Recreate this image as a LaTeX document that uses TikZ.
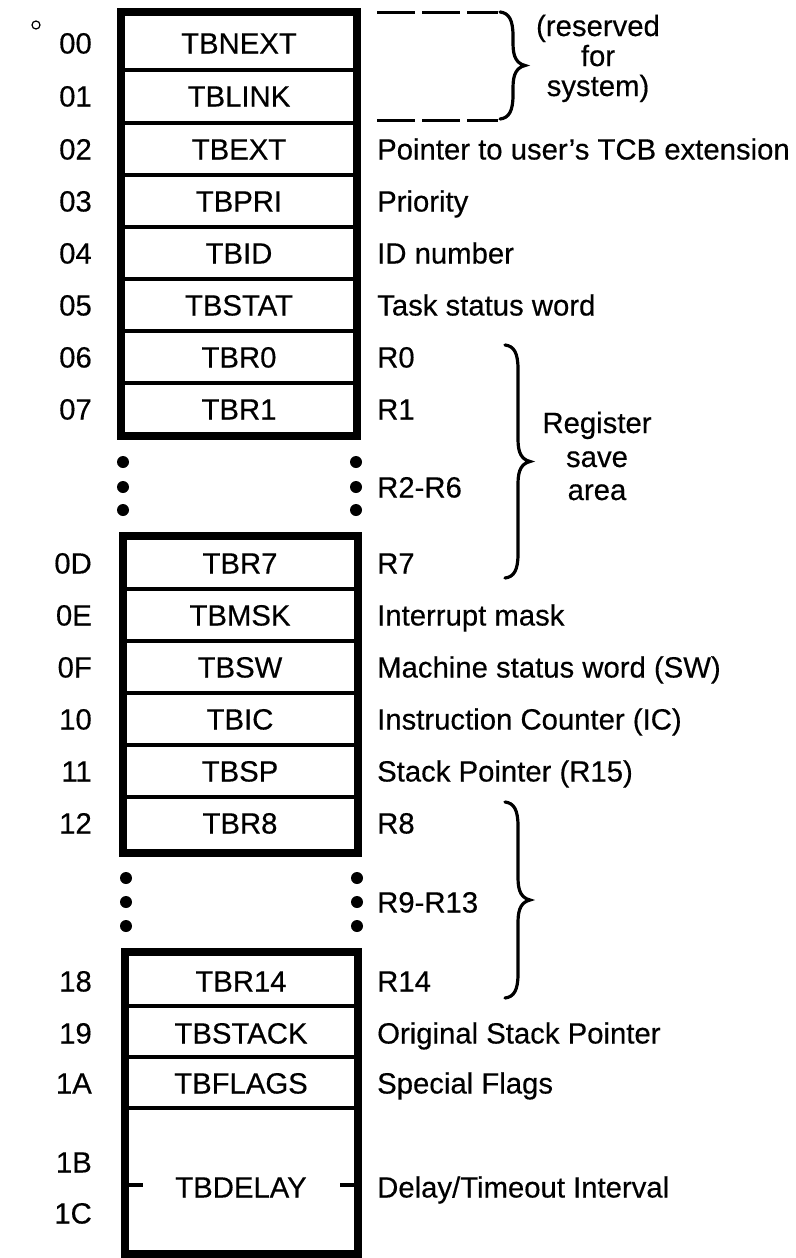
\documentclass[tikz,border=0pt]{standalone}
\usepackage{fontspec}
\setmainfont{Liberation Sans}[FakeBold=0.4]
\newcommand\myrbrace[3]{%
  \draw[bracestyle] (#1,#2) .. controls ({#1+9},{#2+1}) and ({#1+13},{#2+8}) .. ({#1+13},{#2+24})
    -- ({#1+13},{(#2+#3)/2-22}) .. controls ({#1+13},{(#2+#3)/2-8}) and ({#1+17},{(#2+#3)/2-2}) .. ({#1+25},{(#2+#3)/2})
    .. controls ({#1+17},{(#2+#3)/2+2}) and ({#1+13},{(#2+#3)/2+8}) .. ({#1+13},{(#2+#3)/2+22})
    -- ({#1+13},{#3-24}) .. controls ({#1+13},{#3-8}) and ({#1+9},{#3-1}) .. (#1,#3);}
\begin{document}
\begin{tikzpicture}[x=1pt,y=-1pt,
  txt/.style={font=\fontsize{29.3}{33}\selectfont, inner sep=0pt, text height=21pt, text depth=0pt},
  hex/.style={txt, anchor=east},
  cell/.style={txt},
  desc/.style={txt, anchor=west},
  side/.style={font=\fontsize{29.3}{33}\selectfont, inner sep=0pt, anchor=base},
  frame/.style={line width=8pt},
  sep/.style={line width=4pt},
  bracestyle/.style={line width=3.2pt, line cap=round},
  dashline/.style={line width=3pt, dash pattern=on 38pt off 7pt},
  dot/.style={fill, circle, inner sep=0pt, minimum size=12pt},
]
\useasboundingbox (0,0) rectangle (795,1258);

% small mark
\node[circle, draw, line width=1.2pt, minimum size=8pt, inner sep=0pt] (mark) at (36,25) {};

% ---- box 1
\draw[frame] (121,12) rectangle (357,436);
\foreach \y in {69.5,122.5,175,227,279,331,383} \draw[sep] (121,\y) -- (357,\y);
% ---- box 2
\draw[frame] (123,536) rectangle (358,853);
\foreach \y in {589,641,693,745,797} \draw[sep] (123,\y) -- (358,\y);
% ---- box 3
\draw[frame] (125,952) rectangle (358,1254);
\foreach \y in {1006,1057,1108} \draw[sep] (125,\y) -- (358,\y);

% dots
\foreach \y [count=\i] in {462,487,510} {
  \node[dot] (dl\i) at (123,\y) {};
  \node[dot] (dr\i) at (356,\y) {};
}
\foreach \y [count=\i] in {878,902,926} {
  \node[dot] (el\i) at (126,\y) {};
  \node[dot] (er\i) at (357,\y) {};
}

% hex labels
\foreach \t/\y in {00/43,01/96,02/149,03/201,04/253,05/305,06/357,07/409,
                   0D/563,0E/615,0F/667,10/719,11/771,12/823,
                   18/981,19/1033,1A/1083,1B/1162,1C/1213}
  \node[hex] (h\t) at (92,\y) {\t};

% cells
\foreach \t/\y/\cx in {TBNEXT/43/239,TBLINK/96/239,TBEXT/149/239,TBPRI/201/239,TBID/253/239,
                   TBSTAT/305/239,TBR0/357/239,TBR1/409/239,
                   TBR7/563/240,TBMSK/615/240,TBSW/667/240,TBIC/719/240,TBSP/771/240,TBR8/823/240,
                   TBR14/981/241,TBSTACK/1033/241,TBFLAGS/1083/241,TBDELAY/1187/241}
  \node[cell] (c\t) at (\cx,\y) {\t};

% TBDELAY ticks
\coordinate (tl) at (143,1185);
\coordinate (tr) at (340,1185);
\draw[sep] (125,1185) -- (tl);
\draw[sep] (tr) -- (358,1185);

% descriptions
\node[desc] (d02) at (377,149) {Pointer to user’s TCB extension};
\node[desc] (d03) at (377,201) {Priority};
\node[desc] (d04) at (377,253) {ID number};
\node[desc] (d05) at (377,305) {Task status word};
\node[desc] (d06) at (377,357) {R0};
\node[desc] (d07) at (377,409) {R1};
\node[desc] (d26) at (377,487) {R2-R6};
\node[desc] (d0D) at (377,563) {R7};
\node[desc] (d0E) at (377,615) {Interrupt mask};
\node[desc] (d0F) at (377,667) {Machine status word (SW)};
\node[desc] (d10) at (377,719) {Instruction Counter (IC)};
\node[desc] (d11) at (377,771) {Stack Pointer (R15)};
\node[desc] (d12) at (377,823) {R8};
\node[desc] (d913) at (377,902) {R9-R13};
\node[desc] (d18) at (377,981) {R14};
\node[desc] (d19) at (377,1033) {Original Stack Pointer};
\node[desc] (d1A) at (377,1083) {Special Flags};
\node[desc] (d1B) at (377,1187) {Delay/Timeout Interval};

% reserved dashed lines
\coordinate (dsa) at (377,12);  \coordinate (dsb) at (498,12);
\coordinate (dsc) at (377,120); \coordinate (dsd) at (498,120);
\draw[dashline] (dsa) -- (dsb);
\draw[dashline] (dsc) -- (dsd);

% braces
\myrbrace{500}{12}{119}
\myrbrace{505}{345}{578}
\myrbrace{505}{802}{998}

% side texts
\node[side] (res1) at (598,36) {(reserved};
\node[side] (res2) at (598,66) {for};
\node[side] (res3) at (598,96) {system)};
\node[side] (reg1) at (597,433) {Register};
\node[side] (reg2) at (597,467) {save};
\node[side] (reg3) at (597,500) {area};
\end{tikzpicture}
\end{document}
